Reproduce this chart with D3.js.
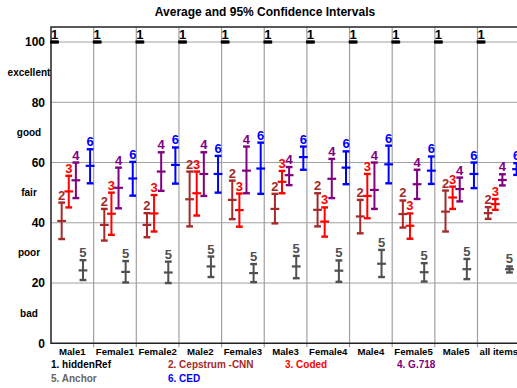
<!DOCTYPE html>
<html>
<head>
<meta charset="utf-8">
<script src="https://cdn.jsdelivr.net/npm/d3@7"></script>
<style>
  body { margin: 0; background: #fff; }
  text { font-family: "Liberation Sans", Arial, sans-serif; font-weight: bold; }
</style>
</head>
<body>
<svg width="517" height="388"></svg>
<script>
// categories
var groups = ["Male1", "Female1", "Female2", "Male2", "Female3", "Male3",
              "Female4", "Male4", "Female5", "Male5", "all items"];
var seriesNames = ["hiddenRef", "Cepstrum -CNN", "Coded", "G.718", "Anchor", "CED"];
var seriesColors = ["#000000", "#a52a2a", "#ff0000", "#800080", "#505050", "#0000ff"];

// y tick labels
var yTicks = [0, 20, 40, 60, 80, 100];
var yWords = ["bad", "poor", "fair", "good", "excellent"];
var yWordPos = [10, 30, 50, 70, 90];

// mean and 95% CI per series (one value per group)
var refMean = [100, 100, 100, 100, 100, 100, 100, 100, 100, 100, 100];
var refLow  = [100, 100, 100, 100, 100, 100, 100, 100, 100, 100, 100];
var refHigh = [100, 100, 100, 100, 100, 100, 100, 100, 100, 100, 100];

var cnnMean = [40.6, 39.3, 39.3, 47.8, 47.6, 44.6, 44.3, 42.1, 42.9, 43.7, 43.2];
var cnnLow  = [34.6, 34.1, 35.2, 38.8, 41.2, 39.8, 38.8, 36.5, 38.4, 37.1, 41.3];
var cnnHigh = [46.7, 44.6, 43.2, 57.0, 54.0, 49.6, 49.8, 47.6, 47.4, 50.7, 45.2];

var codedMean = [50.4, 43.0, 43.1, 49.8, 44.2, 53.6, 40.4, 48.9, 39.0, 48.4, 46.2];
var codedLow  = [45.1, 36.0, 37.1, 42.4, 38.7, 49.8, 35.4, 41.5, 34.7, 44.6, 44.3];
var codedHigh = [55.6, 50.0, 49.2, 57.0, 49.7, 57.2, 45.1, 56.2, 43.1, 52.0, 47.9];

var g718Mean = [54.1, 51.6, 57.0, 56.2, 57.3, 55.8, 54.6, 50.9, 52.8, 51.2, 54.2];
var g718Low  = [48.2, 44.8, 50.6, 48.9, 49.8, 52.5, 48.2, 44.6, 47.9, 47.1, 52.4];
var g718High = [60.0, 58.3, 63.4, 63.4, 65.3, 58.5, 61.2, 60.0, 57.6, 55.0, 56.1];

var anchorMean = [24.2, 23.7, 23.5, 25.5, 23.3, 25.5, 24.1, 26.4, 23.6, 24.6, 24.6];
var anchorLow  = [21.0, 20.2, 20.0, 22.0, 20.3, 21.6, 20.4, 22.0, 20.5, 21.3, 23.5];
var anchorHigh = [27.6, 27.3, 27.1, 28.8, 26.3, 29.0, 27.5, 31.0, 26.6, 28.0, 25.5];

var cedMean = [58.9, 54.7, 59.2, 56.2, 58.0, 61.8, 58.3, 59.4, 57.3, 56.2, 57.8];
var cedLow  = [53.1, 49.0, 53.0, 50.0, 49.6, 57.6, 52.8, 53.1, 52.9, 51.5, 55.9];
var cedHigh = [64.4, 60.2, 65.0, 62.2, 66.6, 65.3, 63.7, 65.6, 62.0, 60.0, 59.8];

var means = [refMean, cnnMean, codedMean, g718Mean, anchorMean, cedMean];
var lows = [refLow, cnnLow, codedLow, g718Low, anchorLow, cedLow];
var highs = [refHigh, cnnHigh, codedHigh, g718High, anchorHigh, cedHigh];

function main() {
    var svg = d3.select("svg");
    var left = 51, top = 27, bottom = 343.3;
    var groupW = 42.65;
    var right = left + groups.length * groupW;

    var x = d3.scaleBand().domain(groups).range([left, right]).padding(0);
    var xs = d3.scaleBand().domain(d3.range(seriesNames.length)).range([0, x.bandwidth()]);
    var y = d3.scaleLinear().domain([0, 100]).range([bottom, 42]);

    svg.append("text")
       .attr("x", 265)
       .attr("y", 16)
       .attr("text-anchor", "middle")
       .attr("font-size", "12px")
       .text("Average and 95% Confidence Intervals");

    // horizontal gridlines
    svg.append("g")
       .selectAll("line")
       .data(yTicks.slice(1))
       .enter().append("line")
       .attr("x1", left).attr("x2", right)
       .attr("y1", function(d) { return y(d); })
       .attr("y2", function(d) { return y(d); })
       .attr("stroke", "#a0a0a0").attr("stroke-width", 1);

    // vertical separators between groups
    svg.append("g")
       .selectAll("line")
       .data(groups.slice(1))
       .enter().append("line")
       .attr("x1", function(d) { return x(d); })
       .attr("x2", function(d) { return x(d); })
       .attr("y1", top).attr("y2", bottom + 4)
       .attr("stroke", "#a0a0a0").attr("stroke-width", 1.2);

    // frame
    svg.append("path")
       .attr("d", "M" + right + "," + top + "H" + left + "V" + bottom + "H" + right + "Z")
       .attr("fill", "none").attr("stroke", "#222").attr("stroke-width", 1.5);

    // y axis labels
    var yAxis = svg.append("g")
       .attr("transform", "translate(" + left + ",0)")
       .call(d3.axisLeft(y).tickValues(yTicks).tickSize(0).tickPadding(6));
    yAxis.select(".domain").remove();
    yAxis.selectAll("text")
       .attr("font-size", "12px")
       .attr("font-family", "Liberation Sans, Arial, sans-serif")
       .attr("fill", "#000");

    svg.append("g")
       .selectAll("text")
       .data(yWords)
       .enter().append("text")
       .attr("x", 29)
       .attr("y", function(d, i) { return y(yWordPos[i]); })
       .attr("dy", "0.35em")
       .attr("text-anchor", "middle")
       .attr("font-size", "10px")
       .text(function(d) { return d; });

    // group labels
    var xAxis = svg.append("g")
       .attr("transform", "translate(0," + bottom + ")")
       .call(d3.axisBottom(x).tickSize(0).tickPadding(5));
    xAxis.select(".domain").remove();
    xAxis.selectAll("text")
       .attr("font-size", "9.6px")
       .attr("font-family", "Liberation Sans, Arial, sans-serif")
       .attr("fill", "#000");

    // error bars
    var capW = 3.4, meanW = 4.4;
    seriesNames.forEach(function(name, s) {
        var col = seriesColors[s];
        var gs = svg.append("g").attr("class", "series");
        var cx = function(d, i) { return x(groups[i]) + xs(s) + xs.bandwidth() / 2; };
        var data = groups.map(function(gname, i) { return i; });

        gs.selectAll(".ci").data(data).enter().append("line")
          .attr("x1", cx).attr("x2", cx)
          .attr("y1", function(i) { return y(lows[s][i]); })
          .attr("y2", function(i) { return y(highs[s][i]); })
          .attr("stroke", col).attr("stroke-width", 2);

        [lows[s], highs[s]].forEach(function(arr) {
            gs.selectAll(null).data(data).enter().append("line")
              .attr("x1", function(i) { return cx(null, i) - capW; })
              .attr("x2", function(i) { return cx(null, i) + capW; })
              .attr("y1", function(i) { return y(arr[i]); })
              .attr("y2", function(i) { return y(arr[i]); })
              .attr("stroke", col).attr("stroke-width", 2.4);
        });

        gs.selectAll(null).data(data).enter().append("line")
          .attr("x1", function(i) { return cx(null, i) - meanW; })
          .attr("x2", function(i) { return cx(null, i) + meanW; })
          .attr("y1", function(i) { return y(means[s][i]); })
          .attr("y2", function(i) { return y(means[s][i]); })
          .attr("stroke", col).attr("stroke-width", s == 0 ? 3 : 2.2);

        gs.selectAll(null).data(data).enter().append("text")
          .attr("x", function(i) { return cx(null, i); })
          .attr("y", function(i) { return y(highs[s][i]) - 3; })
          .attr("text-anchor", "middle")
          .attr("font-size", "13px")
          .attr("fill", col)
          .text(s + 1);
    });

    // legend
    var legX = [51, 168, 285, 397, 51, 168];
    var legY = [368, 368, 368, 368, 382, 382];
    svg.append("g")
       .selectAll("text")
       .data(seriesNames)
       .enter().append("text")
       .attr("x", function(d, i) { return legX[i]; })
       .attr("y", function(d, i) { return legY[i]; })
       .attr("font-size", "10px")
       .attr("fill", function(d, i) { return i == 4 ? "#666" : seriesColors[i]; })
       .text(function(d, i) { return (i + 1) + ". " + d; });
}
main();
</script>
</body>
</html>
